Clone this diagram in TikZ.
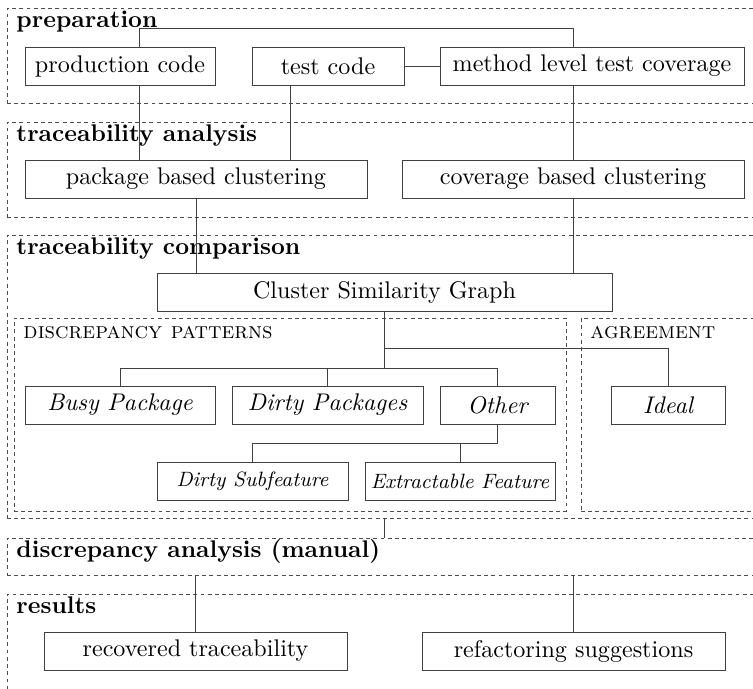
\documentclass[tikz,border=0pt]{standalone}
\begin{document}
\begin{tikzpicture}[x=0.415pt,y=-0.415pt,
  region/.style={draw=black!70, dash pattern=on 1.6pt off 1.4pt, inner sep=0pt, outer sep=0pt, anchor=north west},
  title/.style={font=\bfseries, inner sep=0pt, anchor=base west},
  sctitle/.style={font=\fontsize{9.5}{11}\selectfont\scshape, inner sep=0pt, anchor=base west},
  box/.style={draw=black!75, minimum height=38*0.415pt, inner sep=0pt, outer sep=0pt},
  pat/.style={box, font=\itshape},
  subpat/.style={box, font=\fontsize{8.6}{10}\selectfont\itshape},
  conn/.style={draw=black!75}]
\useasboundingbox (0,0) rectangle (753,688);
% regions
\node[region, minimum width=763*0.415pt, minimum height=95*0.415pt] (prep) at (7,8) {};
\node[region, minimum width=763*0.415pt, minimum height=95*0.415pt] (ta) at (7,122) {};
\node[region, minimum width=763*0.415pt, minimum height=283*0.415pt] (tc) at (7,235) {};
\node[region, minimum width=552*0.415pt, minimum height=193*0.415pt] (dp) at (14,318) {};
\node[region, minimum width=189*0.415pt, minimum height=193*0.415pt] (ag) at (581,318) {};
\node[region, minimum width=763*0.415pt, minimum height=37*0.415pt] (da) at (7,538) {};
\node[region, minimum width=763*0.415pt, minimum height=110*0.415pt] (res) at (7,594) {};
% titles
\node[title] (tprep) at (16,27.5) {preparation};
\node[title] (tta) at (16,141.5) {traceability analysis};
\node[title] (ttc) at (16,254.5) {traceability comparison};
\node[sctitle] (tdp) at (23,338) {discrepancy patterns};
\node[sctitle] (tag) at (590,338) {agreement};
\node[title] (tda) at (16,557) {discrepancy analysis (manual)};
\node[title] (tres) at (16,613.5) {results};
% boxes
\node[box, minimum width=190*0.415pt] (prod) at (120,66) {production code};
\node[box, minimum width=152*0.415pt] (test) at (328,66) {test code};
\node[box, minimum width=304*0.415pt] (method) at (592,66) {method level test coverage};
\node[box, minimum width=342*0.415pt] (pkg) at (196,179) {package based clustering};
\node[box, minimum width=342*0.415pt] (cov) at (573,179) {coverage based clustering};
\node[box, minimum width=455*0.415pt] (csg) at (384.5,292) {Cluster Similarity Graph};
\node[pat, minimum width=190*0.415pt] (busy) at (120,405) {Busy Package};
\node[pat, minimum width=191*0.415pt] (dirtyp) at (327.5,405) {Dirty Packages};
\node[pat, minimum width=115*0.415pt] (other) at (497.5,405) {Other};
\node[pat, minimum width=114*0.415pt] (ideal) at (668,405) {Ideal};
\node[subpat, minimum width=191*0.415pt] (dsub) at (252.5,481) {Dirty Subfeature};
\node[subpat, minimum width=190*0.415pt] (extr) at (460,481) {Extractable Feature};
\node[box, minimum width=303*0.415pt] (rec) at (195.5,651) {recovered traceability};
\node[box, minimum width=303*0.415pt] (ref) at (573.5,651) {refactoring suggestions};
% junction coordinates
\coordinate (j1) at (139,28);
\coordinate (j2) at (573,28);
\coordinate (j3) at (290,120);
\coordinate (b1) at (384.5,368);
\coordinate (b2) at (384.5,348);
\coordinate (b3) at (497.5,443);
% connectors
\draw[conn] (prod.north -| j1) -- (j1) -- (j2) -- (method.north -| j2);
\draw[conn] (test) -- (method);
\draw[conn] (prod.south -| j1) -- (pkg.north -| j1);
\draw[conn] (test.south -| j3) -- (pkg.north -| j3);
\draw[conn] (method.south -| j2) -- (cov.north -| j2);
\draw[conn] (pkg.south) -- (csg.north -| pkg.south);
\draw[conn] (cov.south -| j2) -- (csg.north -| j2);
\draw[conn] (csg.south) -- (b1);
\draw[conn] (b2) -| (ideal.north);
\draw[conn] (busy.north) |- (other.north |- b1) -- (other.north);
\draw[conn] (dirtyp.north) -- (dirtyp.north |- b1);
\draw[conn] (other.south) -- (b3) -- (dsub.north |- b3) -- (dsub.north);
\draw[conn] (extr.north) -- (extr.north |- b3);
\draw[conn] (tc.south -| csg.south) -- (da.north -| csg.south);
\draw[conn] (da.south -| rec.north) -- (rec.north);
\draw[conn] (da.south -| ref.north) -- (ref.north);
\end{tikzpicture}
\end{document}
